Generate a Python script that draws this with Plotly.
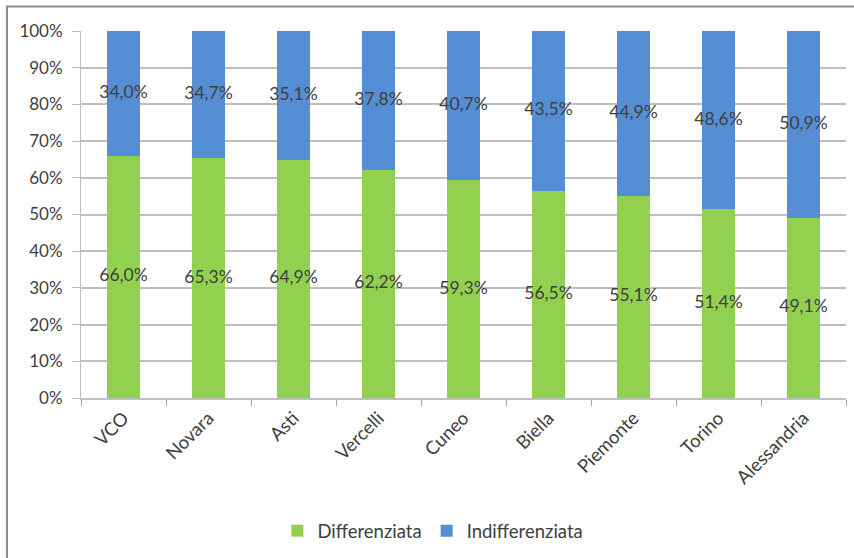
import plotly.graph_objects as go

# Raccolta rifiuti: quota differenziata / indifferenziata per provincia
provinces = ["VCO", "Novara", "Asti", "Vercelli", "Cuneo", "Biella",
             "Piemonte", "Torino", "Alessandria"]
differenziata = [66.0, 65.3, 64.9, 62.2, 59.3, 56.5, 55.1, 51.4, 49.1]
indifferenziata = [34.0, 34.7, 35.1, 37.8, 40.7, 43.5, 44.9, 48.6, 50.9]
y_ticks = [0, 10, 20, 30, 40, 50, 60, 70, 80, 90, 100]

GREEN = "#92D050"
BLUE = "#558ED5"
TEXT = "#404040"
FONT = "Lato"

W, H = 854, 558
ML, MR, MT, MB = 81, 8, 30.5, 159.5
PW, PH = W - ML - MR, H - MT - MB


def fmt(v):
    return f"{v:.1f}".replace(".", ",") + "%"


def px_x(px):
    return (px - ML) / PW


def px_y(py):
    return (H - MB - py) / PH


fig = go.Figure()
fig.add_trace(go.Bar(x=provinces, y=differenziata, name="Differenziata",
                     marker=dict(color=GREEN, line=dict(width=0))))
fig.add_trace(go.Bar(x=provinces, y=indifferenziata, name="Indifferenziata",
                     marker=dict(color=BLUE, line=dict(width=0))))

# value labels centred in each segment
mid_diff = [d / 2 for d in differenziata]
mid_ind = [d + i / 2 for d, i in zip(differenziata, indifferenziata)]
for mids, vals in ((mid_diff, differenziata), (mid_ind, indifferenziata)):
    fig.add_trace(go.Scatter(
        x=provinces, y=mids, mode="text", text=[fmt(v) for v in vals],
        textposition="middle center", showlegend=False, hoverinfo="skip",
        textfont=dict(family=FONT, size=17.5, color=TEXT)))

# outer frame (left and top edges)
frame = dict(type="line", xref="paper", yref="paper",
             line=dict(color="#8C8C8C", width=2), layer="above")
fig.add_shape(**frame, x0=px_x(7), x1=px_x(7), y0=px_y(6), y1=px_y(H + 2))
fig.add_shape(**frame, x0=px_x(6), x1=px_x(W + 2), y0=px_y(6), y1=px_y(6))

fig.update_layout(
    width=W, height=H,
    barmode="stack", bargap=0.61,
    margin=dict(l=ML, r=MR, t=MT, b=MB, pad=0),
    paper_bgcolor="white", plot_bgcolor="white",
    font=dict(family=FONT, size=17, color=TEXT),
    showlegend=True,
    legend=dict(orientation="h", x=0.46, xanchor="center",
                y=px_y(532), yanchor="middle",
                font=dict(family=FONT, size=18.5, color=TEXT),
                traceorder="normal"),
    xaxis=dict(type="category", tickangle=-45, tickson="boundaries",
               ticks="outside", ticklen=6, tickcolor="#A6A6A6",
               showline=True, linecolor="#BFBFBF", linewidth=2,
               showgrid=False,
               tickfont=dict(family=FONT, size=18.5, color=TEXT)),
    yaxis=dict(range=[0, 100], tickvals=y_ticks,
               ticktext=[f"{t}%" for t in y_ticks],
               ticks="outside", ticklen=8, tickcolor="#BFBFBF",
               showline=True, linecolor="#BFBFBF", linewidth=1,
               showgrid=True, gridcolor="#BFBFBF", gridwidth=1.5,
               zeroline=False, ticklabelstandoff=6,
               tickfont=dict(family=FONT, size=17, color=TEXT)),
)

fig.write_html("out.html")
